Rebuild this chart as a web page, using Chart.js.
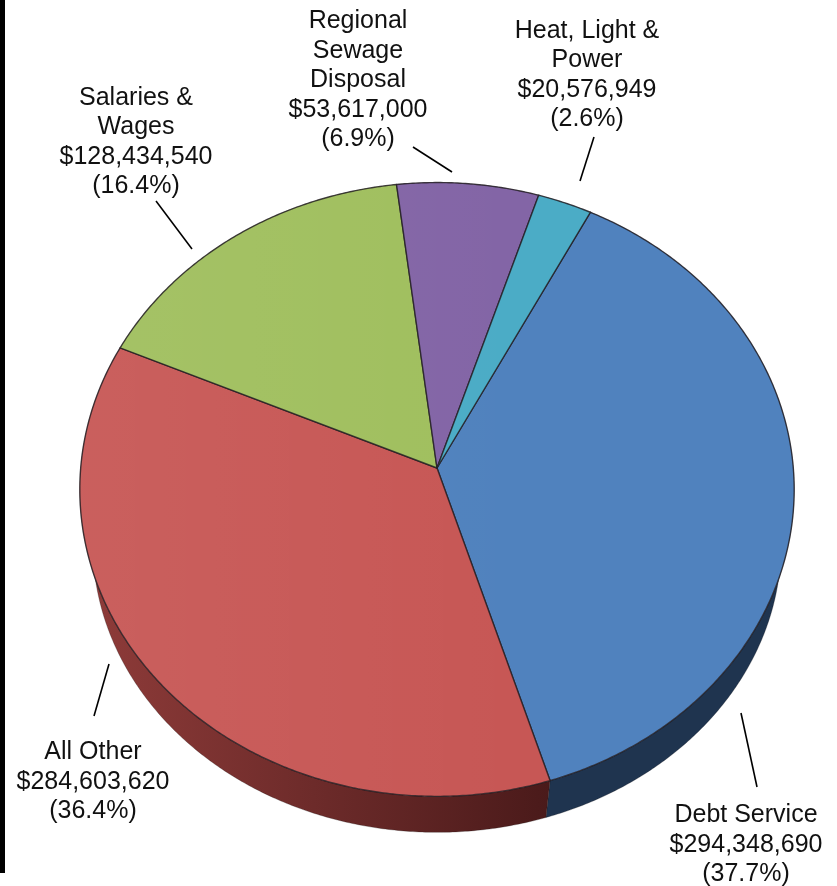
<!DOCTYPE html>
<html>
<head>
<meta charset="utf-8">
<title>Expenditures</title>
<script src="https://cdn.jsdelivr.net/npm/chart.js@4"></script>
<style>
  body { margin: 0; background: #fff; }
  #wrap { position: relative; width: 837px; height: 886px; }
  #edge { position: absolute; left: 0; top: 0; width: 5px; height: 873px; background: #000; }
  canvas { display: block; }
</style>
</head>
<body>
<div id="wrap">
  <canvas id="pie" width="837" height="886"></canvas>
  <div id="edge"></div>
</div>
<script>
const categories = ["Debt Service", "All Other", "Salaries & Wages", "Regional Sewage Disposal", "Heat, Light & Power"];
const amounts = [294348690, 284603620, 128434540, 53617000, 20576949];
const amountLabels = ["$294,348,690", "$284,603,620", "$128,434,540", "$53,617,000", "$20,576,949"];
const percentLabels = ["(37.7%)", "(36.4%)", "(16.4%)", "(6.9%)", "(2.6%)"];
const nameLines = [["Debt Service"], ["All Other"], ["Salaries &", "Wages"], ["Regional", "Sewage", "Disposal"], ["Heat, Light &", "Power"]];
const topColors = ["#5082BE", "#C75755", "#A0BF5E", "#8365A6", "#4BACC6"];
const wallColors = ["#1F344F", "#6B2A29", "#5F7530", "#4D3A63", "#2A6A7C"];

// last baseline of each label block, its centre, and the leader line next to it
const labelSpots = [
  { x: 746, y: 881, line: [741, 713, 757, 787] },
  { x: 93, y: 818, line: [109, 664, 94, 716] },
  { x: 136, y: 193, line: [156, 201, 192, 249] },
  { x: 358, y: 146, line: [413, 147, 452, 172] },
  { x: 587, y: 126, line: [594, 137, 580, 181] },
];

// the pie is tilted: a circle seen in perspective, so the hub sits above the ellipse centre
const TILT = -0.0699;
const SQUASH = 306 / 357;

// far rim of the side wall, as a scaled copy of the top outline
const OUTLINE_CY = 488.5;
const WALL_CY = 543;
const WALL_SX = 345 / 358;
const WALL_SY = 289 / 307.5;

function project(arc, angle) {
  const u = Math.cos(angle);
  const v = Math.sin(angle);
  const d = 1 + TILT * v;
  return {
    x: arc.x + (arc.outerRadius * u) / d,
    y: arc.y + (arc.outerRadius * SQUASH * v) / d,
  };
}

function rimPoints(arc) {
  const pts = [];
  const steps = Math.max(8, Math.ceil((arc.endAngle - arc.startAngle) * 120));
  for (let i = 0; i <= steps; i++) {
    pts.push(project(arc, arc.startAngle + ((arc.endAngle - arc.startAngle) * i) / steps));
  }
  return pts;
}

function wallPoint(arc, p) {
  return {
    x: arc.x + (p.x - arc.x) * WALL_SX,
    y: WALL_CY + (p.y - OUTLINE_CY) * WALL_SY,
  };
}

const tiltedPie = {
  id: "tiltedPie",
  beforeDatasetsDraw(chart) {
    const ctx = chart.ctx;
    const arcs = chart.getDatasetMeta(0).data;

    // side wall first, the top face covers whatever is hidden
    arcs.forEach((arc, i) => {
      const rim = rimPoints(arc);
      const far = rim.map((p) => wallPoint(arc, p)).reverse();
      ctx.beginPath();
      rim.concat(far).forEach((p, n) => (n ? ctx.lineTo(p.x, p.y) : ctx.moveTo(p.x, p.y)));
      ctx.closePath();
      if (i === 1) {
        // red wall fades out toward the front
        const g = ctx.createLinearGradient(90, 0, 551, 0);
        g.addColorStop(0, "#8E3B39");
        g.addColorStop(1, "#4A1A1A");
        ctx.fillStyle = g;
      } else {
        ctx.fillStyle = wallColors[i];
      }
      ctx.fill();
      ctx.strokeStyle = "rgba(20,15,15,0.25)";
      ctx.lineWidth = 1;
      ctx.stroke();
    });

    // soft highlight on the left of the top face
    const sheen = ctx.createLinearGradient(80, 0, 520, 0);
    sheen.addColorStop(0, "rgba(255,255,255,0.05)");
    sheen.addColorStop(1, "rgba(255,255,255,0)");

    // top faces
    arcs.forEach((arc) => {
      ctx.beginPath();
      ctx.moveTo(arc.x, arc.y);
      rimPoints(arc).forEach((p) => ctx.lineTo(p.x, p.y));
      ctx.closePath();
      ctx.fillStyle = arc.options.backgroundColor;
      ctx.fill();
      ctx.fillStyle = sheen;
      ctx.fill();
      ctx.strokeStyle = arc.options.borderColor;
      ctx.lineWidth = arc.options.borderWidth;
      ctx.lineJoin = "round";
      ctx.stroke();
    });
    return false;
  },
  afterDraw(chart) {
    const ctx = chart.ctx;
    ctx.save();
    ctx.fillStyle = "#111";
    ctx.strokeStyle = "#000";
    ctx.lineWidth = 1.6;
    ctx.font = '25px "Liberation Sans", Arial, sans-serif';
    ctx.textAlign = "center";
    ctx.textBaseline = "alphabetic";
    labelSpots.forEach((spot, i) => {
      const lines = nameLines[i].concat(amountLabels[i], percentLabels[i]);
      lines.forEach((text, n) => {
        ctx.fillText(text, spot.x, spot.y - (lines.length - 1 - n) * 29.4);
      });
      ctx.beginPath();
      ctx.moveTo(spot.line[0], spot.line[1]);
      ctx.lineTo(spot.line[2], spot.line[3]);
      ctx.stroke();
    });
    ctx.restore();
  },
};

new Chart(document.getElementById("pie"), {
  type: "pie",
  data: {
    labels: categories,
    datasets: [
      {
        data: amounts,
        backgroundColor: topColors,
        borderColor: "rgba(35,30,35,0.8)",
        borderWidth: 1.4,
      },
    ],
  },
  options: {
    responsive: false,
    animation: false,
    rotation: 27.2,
    layout: { padding: { left: 80, right: 43, top: 111, bottom: 61 } },
    plugins: {
      legend: { display: false },
      tooltip: { enabled: false },
    },
  },
  plugins: [tiltedPie],
});
</script>
</body>
</html>
